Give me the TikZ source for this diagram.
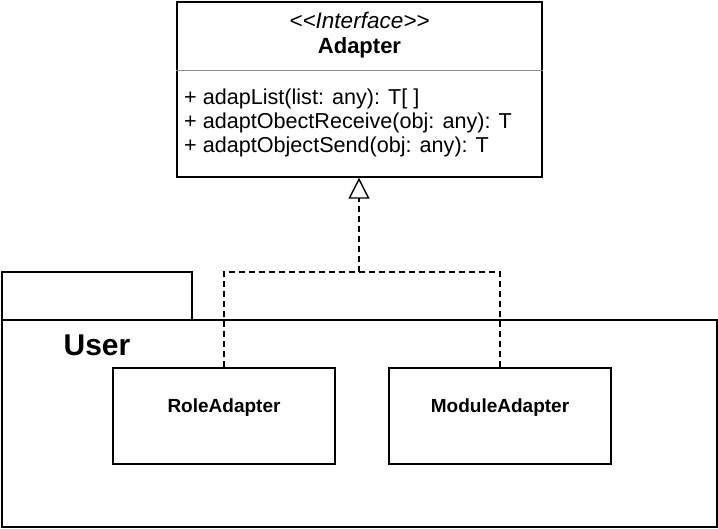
\documentclass[tikz,border=0pt]{standalone}
\usepackage{fontspec}
\setmainfont{Liberation Sans}
\usetikzlibrary{arrows.meta}
\begin{document}
\begin{tikzpicture}[x=1pt,y=-1pt,
  box/.style={draw=black, line width=1.4pt, fill=white, inner sep=0pt, rectangle},
  conn/.style={draw=black, line width=1.4pt, dash pattern=on 6pt off 4pt},
  txt/.style={inner sep=0pt, anchor=base west, font=\fontsize{21.6}{24}\selectfont},
  cls/.style={inner sep=0pt, font=\fontsize{19}{22}\selectfont\bfseries}]
\useasboundingbox (0,0) rectangle (718,529);
% interface box
\node[box, minimum width=365pt, minimum height=175pt] (adapter) at (359.5,89.5) {};
\draw[draw=black!45, line width=1.4pt] ([yshift=-69pt]adapter.north west) coordinate (sepL) -- ([yshift=-69pt]adapter.north east) coordinate (sepR);
\node[inner sep=0pt, font=\fontsize{22.5}{24}\selectfont\itshape] (stereo) at (359.5,20) {<{}<Interface>{}>};
\node[inner sep=0pt, font=\fontsize{22}{24}\selectfont\bfseries] (aname) at (359.5,48) {Adapter};
\node[txt] (m1) at (184,105) {+ adapList(list: any): T[ ]};
\node[txt] (m2) at (184,129) {+ adaptObectReceive(obj: any): T};
\node[txt] (m3) at (184,153) {+ adaptObjectSend(obj: any): T};
% package
\node[box, minimum width=190pt, minimum height=48pt] (tab) at (97,296) {};
\node[box, minimum width=715pt, minimum height=207pt] (pkg) at (359.5,423.5) {};
\node[inner sep=0pt, font=\fontsize{30}{34}\selectfont\bfseries] (user) at (97,345) {User};
% classes
\node[box, minimum width=222pt, minimum height=96pt] (role) at (224,416) {};
\node[box, minimum width=222pt, minimum height=96pt] (module) at (500,416) {};
\node[cls] (rolelbl) at ([yshift=8pt]role.center) {RoleAdapter};
\node[cls] (modlbl) at ([yshift=8pt]module.center) {ModuleAdapter};
% realization
\coordinate (junc) at (359,272);
\draw[conn] (role.north) |- (junc);
\draw[conn] (module.north) |- (junc);
\draw[conn, -{Triangle[open, length=21pt, width=21pt, line width=1.4pt]}] (junc) -- (junc |- adapter.south);
\end{tikzpicture}
\end{document}
